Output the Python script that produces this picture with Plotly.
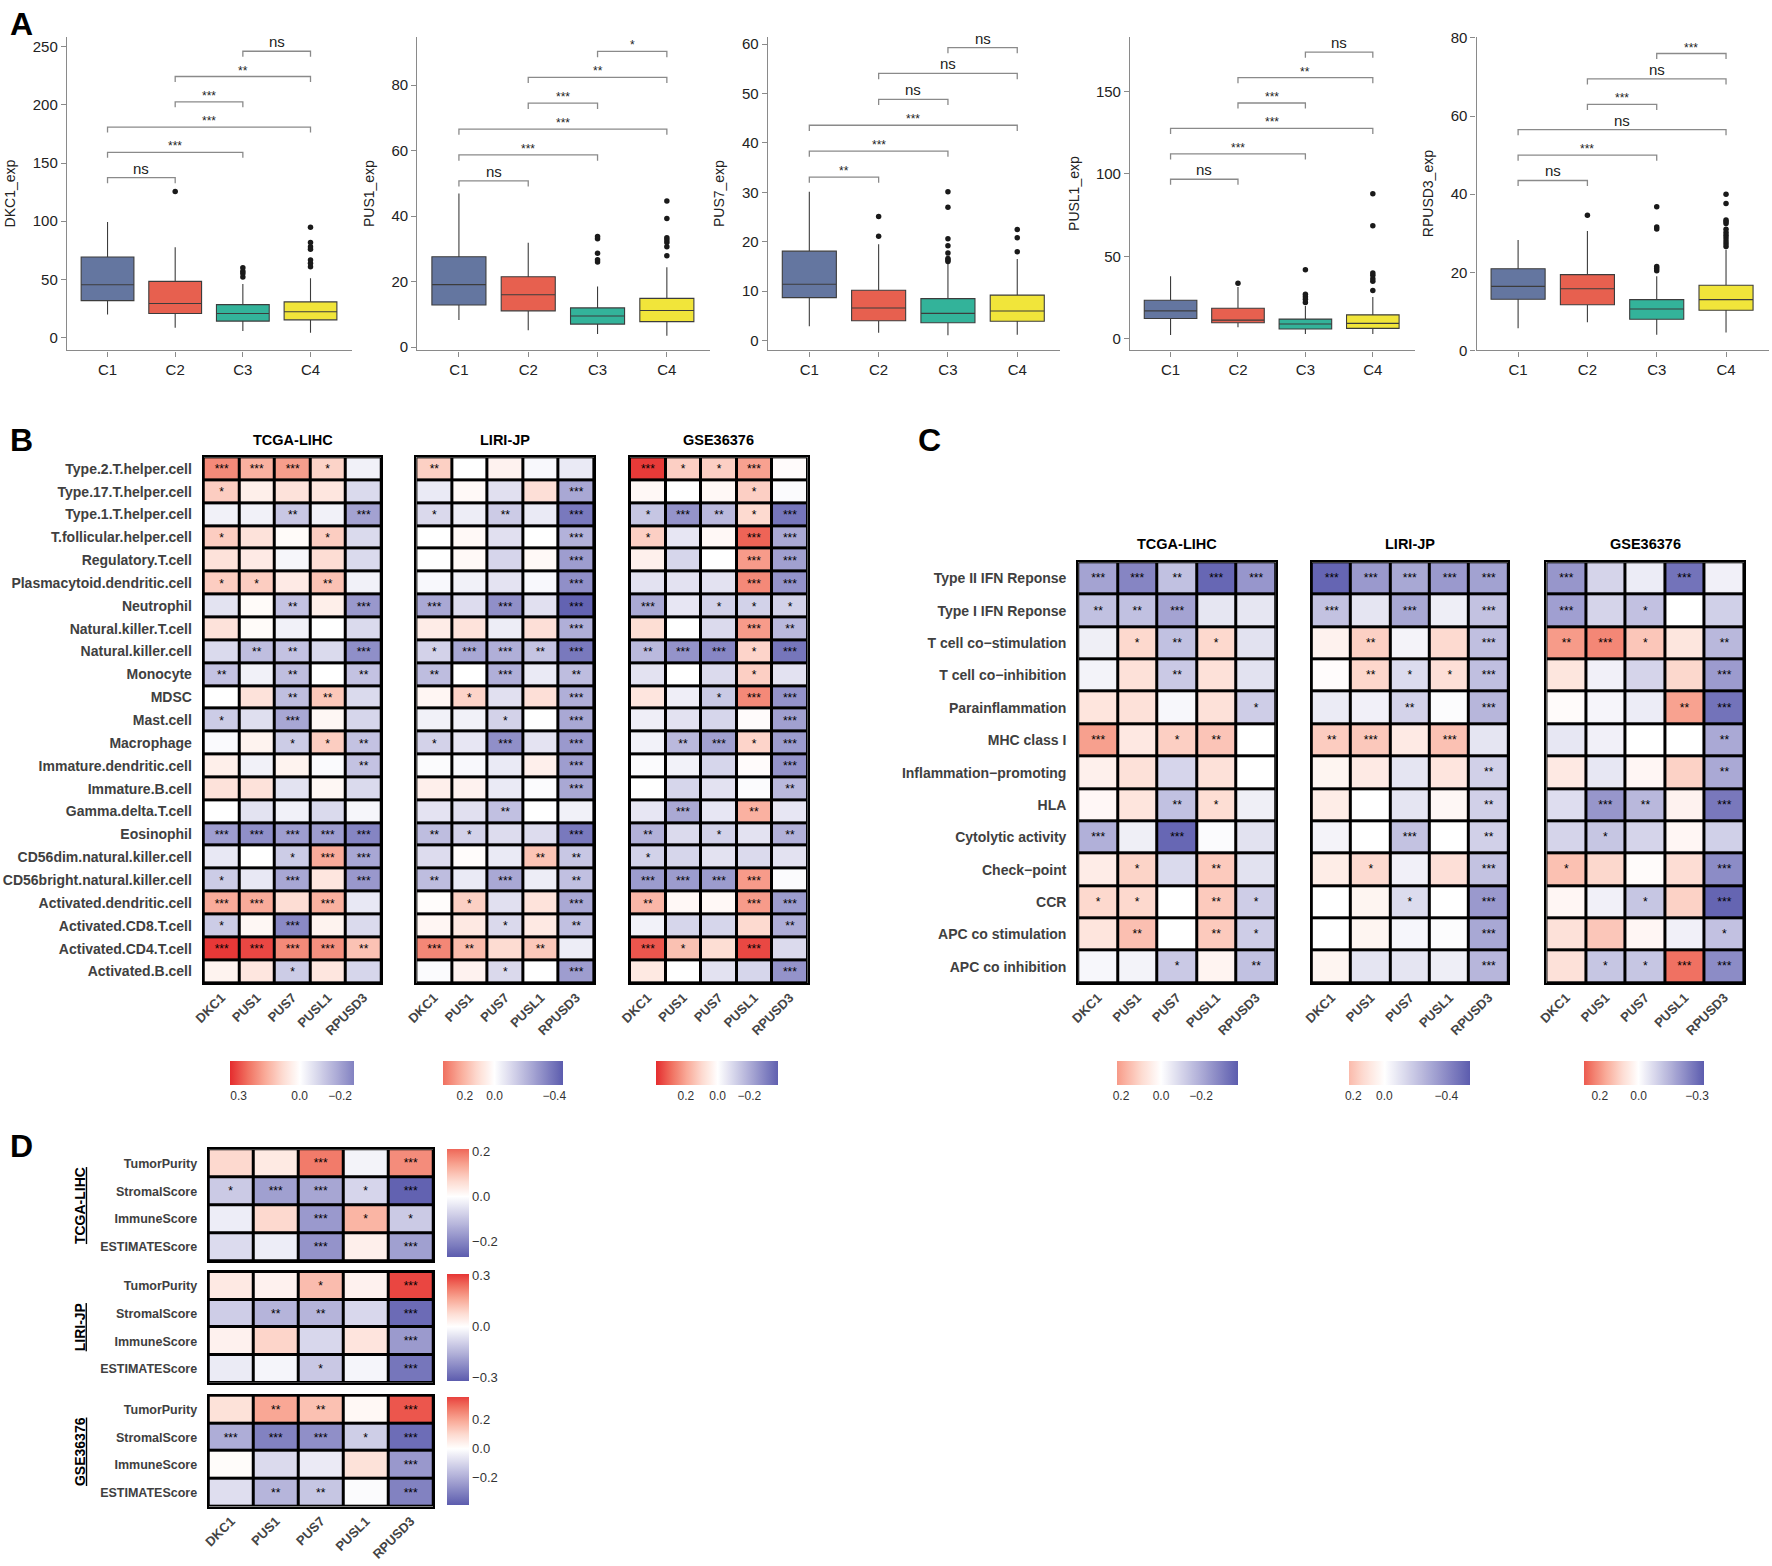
import plotly.graph_objects as go

W, H = 1772, 1566
FONT = "Liberation Sans, Arial, sans-serif"

# ---------------- Panel A data ----------------
groups = ["C1", "C2", "C3", "C4"]
box_colors = ["#6476A0", "#E7604F", "#33B39A", "#F1E53A"]
comparisons = [(0, 1), (0, 2), (0, 3), (1, 2), (1, 3), (2, 3)]

dkc1_q1 = [31.8, 20.7, 14.2, 15.3]
dkc1_med = [45.5, 29.3, 20.7, 22.2]
dkc1_q3 = [69.3, 48.3, 28.4, 30.7]
dkc1_lo = [19.9, 8.5, 5.7, 4.3]
dkc1_hi = [99.4, 77.6, 46.0, 51.0]
dkc1_out = [[], [125.6], [52, 55, 57, 60], [61, 64, 66.8, 76, 78, 81.8, 94.9]]
dkc1_sig = ["ns", "***", "***", "***", "**", "ns"]

pus1_q1 = [12.9, 11.1, 7.05, 7.8]
pus1_med = [19.1, 16.0, 9.5, 11.2]
pus1_q3 = [27.6, 21.5, 12.0, 14.9]
pus1_lo = [8.3, 5.2, 4.0, 3.5]
pus1_hi = [46.9, 31.9, 18.5, 24.4]
pus1_out = [[], [], [26.0, 26.7, 28.7, 33.1, 33.8], [27.9, 30.7, 32.0, 32.7, 33.4, 39.3, 44.6]]
pus1_sig = ["ns", "***", "***", "***", "**", "*"]

pus7_q1 = [8.7, 4.0, 3.6, 3.9]
pus7_med = [11.4, 6.6, 5.5, 6.0]
pus7_q3 = [18.1, 10.2, 8.5, 9.2]
pus7_lo = [2.9, 1.6, 1.1, 1.2]
pus7_hi = [30.1, 19.5, 16.0, 16.5]
pus7_out = [[], [21.1, 25.1], [16.0, 16.3, 16.6, 17.7, 19.2, 20.6, 27.0, 30.1], [18.0, 20.8, 22.5]]
pus7_sig = ["**", "***", "***", "ns", "ns", "ns"]

pusl1_q1 = [12.4, 9.8, 6.0, 6.4]
pusl1_med = [17.0, 11.4, 9.0, 9.4]
pusl1_q3 = [23.4, 18.6, 12.0, 14.6]
pusl1_lo = [2.4, 7.0, 3.0, 3.0]
pusl1_hi = [38.0, 31.4, 20.0, 25.4]
pusl1_out = [[], [33.8], [22.0, 24.0, 25.5, 27.0, 42.0], [29.4, 35.0, 36.5, 38.6, 40.0, 68.6, 88.0]]
pusl1_sig = ["ns", "***", "***", "***", "**", "ns"]

rpusd3_q1 = [13.1, 11.7, 8.0, 10.3]
rpusd3_med = [16.4, 15.8, 10.6, 13.0]
rpusd3_q3 = [20.9, 19.4, 13.0, 16.7]
rpusd3_lo = [5.7, 7.2, 4.0, 4.6]
rpusd3_hi = [28.3, 30.6, 19.0, 25.8]
rpusd3_out = [[], [34.6], [20.4, 21.0, 21.5, 31.1, 31.6, 36.8],
              [26.6, 27.3, 28.0, 28.8, 29.5, 30.2, 31.0, 32.5, 33.0, 33.4, 37.6, 40.0]]
rpusd3_sig = ["ns", "***", "ns", "***", "ns", "***"]

# ---------------- Heatmap data ----------------
genes = ["DKC1", "PUS1", "PUS7", "PUSL1", "RPUSD3"]
datasets = ["TCGA-LIHC", "LIRI-JP", "GSE36376"]

cells_B = ["Type.2.T.helper.cell", "Type.17.T.helper.cell", "Type.1.T.helper.cell",
           "T.follicular.helper.cell", "Regulatory.T.cell", "Plasmacytoid.dendritic.cell",
           "Neutrophil", "Natural.killer.T.cell", "Natural.killer.cell", "Monocyte", "MDSC",
           "Mast.cell", "Macrophage", "Immature.dendritic.cell", "Immature.B.cell",
           "Gamma.delta.T.cell", "Eosinophil", "CD56dim.natural.killer.cell",
           "CD56bright.natural.killer.cell", "Activated.dendritic.cell", "Activated.CD8.T.cell",
           "Activated.CD4.T.cell", "Activated.B.cell"]

tcga_B_r = [
    [0.22, 0.16, 0.19, 0.10, -0.03], [0.11, 0.04, 0.07, 0.06, -0.08],
    [-0.03, -0.03, -0.12, -0.03, -0.20], [0.11, 0.07, 0.01, 0.11, -0.08],
    [0.07, 0.05, -0.02, 0.08, -0.08], [0.11, 0.11, 0.05, 0.13, -0.03],
    [-0.06, 0.01, -0.13, 0.04, -0.22], [0.07, 0.01, -0.03, 0.0, -0.08],
    [-0.08, -0.14, -0.13, -0.08, -0.24], [-0.13, -0.03, -0.14, 0.0, -0.13],
    [0.0, 0.07, -0.14, 0.12, -0.08], [-0.11, -0.07, -0.19, 0.02, -0.09],
    [-0.01, 0.03, -0.11, 0.11, -0.13], [0.04, -0.03, 0.03, -0.01, -0.13],
    [0.07, 0.07, -0.06, 0.02, -0.08], [0.0, -0.06, -0.03, -0.08, -0.02],
    [-0.21, -0.24, -0.21, -0.21, -0.26], [-0.05, 0.0, -0.11, 0.17, -0.19],
    [-0.11, -0.05, -0.19, 0.06, -0.22], [0.17, 0.17, 0.08, 0.16, -0.05],
    [-0.11, 0.02, -0.25, 0.03, -0.08], [0.33, 0.31, 0.22, 0.21, 0.13],
    [0.03, 0.06, -0.11, 0.06, -0.09]]
tcga_B_p = [
    ["***", "***", "***", "*", ""], ["*", "", "", "", ""], ["", "", "**", "", "***"],
    ["*", "", "", "*", ""], ["", "", "", "", ""], ["*", "*", "", "**", ""],
    ["", "", "**", "", "***"], ["", "", "", "", ""], ["", "**", "**", "", "***"],
    ["**", "", "**", "", "**"], ["", "", "**", "**", ""], ["*", "", "***", "", ""],
    ["", "", "*", "*", "**"], ["", "", "", "", "**"], ["", "", "", "", ""],
    ["", "", "", "", ""], ["***", "***", "***", "***", "***"], ["", "", "*", "***", "***"],
    ["*", "", "***", "", "***"], ["***", "***", "", "***", ""], ["*", "", "***", "", ""],
    ["***", "***", "***", "***", "**"], ["", "", "*", "", ""]]

liri_B_r = [
    [0.14, 0.0, 0.04, -0.02, -0.06], [-0.06, 0.02, -0.09, 0.10, -0.25],
    [-0.11, -0.05, -0.15, -0.06, -0.38], [0.0, 0.02, -0.09, 0.0, -0.22],
    [0.0, 0.02, -0.12, 0.02, -0.28], [-0.02, -0.04, -0.08, -0.02, -0.32],
    [-0.25, -0.10, -0.32, -0.09, -0.44], [0.06, 0.09, -0.05, 0.10, -0.23],
    [-0.13, -0.25, -0.23, -0.17, -0.38], [-0.19, 0.0, -0.23, -0.06, -0.19],
    [0.03, 0.13, -0.09, 0.10, -0.23], [-0.04, -0.04, -0.13, 0.0, -0.25],
    [-0.13, -0.07, -0.32, -0.08, -0.29], [-0.01, -0.02, -0.06, 0.05, -0.28],
    [0.05, 0.04, -0.06, -0.01, -0.25], [-0.08, -0.09, -0.18, 0.0, -0.04],
    [-0.19, -0.13, -0.10, -0.10, -0.38], [-0.10, 0.01, -0.06, 0.17, -0.16],
    [-0.19, -0.06, -0.25, -0.05, -0.18], [0.01, 0.14, -0.09, 0.09, -0.25],
    [0.03, 0.07, -0.11, 0.07, -0.18], [0.30, 0.19, 0.11, 0.16, -0.05],
    [-0.01, 0.04, -0.11, 0.0, -0.28]]
liri_B_p = [
    ["**", "", "", "", ""], ["", "", "", "", "***"], ["*", "", "**", "", "***"],
    ["", "", "", "", "***"], ["", "", "", "", "***"], ["", "", "", "", "***"],
    ["***", "", "***", "", "***"], ["", "", "", "", "***"], ["*", "***", "***", "**", "***"],
    ["**", "", "***", "", "**"], ["", "*", "", "", "***"], ["", "", "*", "", "***"],
    ["*", "", "***", "", "***"], ["", "", "", "", "***"], ["", "", "", "", "***"],
    ["", "", "**", "", ""], ["**", "*", "", "", "***"], ["", "", "", "**", "**"],
    ["**", "", "***", "", "**"], ["", "*", "", "", "***"], ["", "", "*", "", "**"],
    ["***", "**", "", "**", ""], ["", "", "*", "", "***"]]

gse_B_r = [
    [0.37, 0.12, 0.12, 0.21, 0.01], [0.02, 0.0, 0.02, 0.12, -0.01],
    [-0.14, -0.26, -0.17, 0.10, -0.33], [0.12, -0.06, 0.02, 0.31, -0.21],
    [0.04, -0.10, 0.0, 0.22, -0.23], [-0.07, -0.07, -0.07, 0.25, -0.26],
    [-0.21, -0.06, -0.11, -0.11, -0.11], [0.09, 0.0, -0.09, 0.22, -0.17],
    [-0.17, -0.26, -0.29, 0.11, -0.33], [-0.07, 0.0, -0.09, 0.12, -0.07],
    [0.07, -0.04, -0.13, 0.25, -0.26], [-0.04, -0.07, -0.10, 0.01, -0.23],
    [-0.03, -0.17, -0.23, 0.11, -0.24], [-0.01, -0.03, -0.10, 0.01, -0.26],
    [0.0, -0.10, -0.07, -0.01, -0.17], [-0.06, -0.21, -0.06, 0.18, -0.06],
    [-0.19, -0.09, -0.11, -0.07, -0.19], [-0.11, -0.10, -0.07, -0.09, -0.07],
    [-0.24, -0.24, -0.24, 0.22, -0.01], [0.17, 0.02, 0.02, 0.22, -0.24],
    [-0.03, -0.10, -0.10, 0.10, -0.20], [0.33, 0.15, 0.09, 0.35, -0.09],
    [0.06, 0.0, -0.07, -0.10, -0.26]]
gse_B_p = [
    ["***", "*", "*", "***", ""], ["", "", "", "*", ""], ["*", "***", "**", "*", "***"],
    ["*", "", "", "***", "***"], ["", "", "", "***", "***"], ["", "", "", "***", "***"],
    ["***", "", "*", "*", "*"], ["", "", "", "***", "**"], ["**", "***", "***", "*", "***"],
    ["", "", "", "*", ""], ["", "", "*", "***", "***"], ["", "", "", "", "***"],
    ["", "**", "***", "*", "***"], ["", "", "", "", "***"], ["", "", "", "", "**"],
    ["", "***", "", "**", ""], ["**", "", "*", "", "**"], ["*", "", "", "", ""],
    ["***", "***", "***", "***", ""], ["**", "", "", "***", "***"], ["", "", "", "", "**"],
    ["***", "*", "", "***", ""], ["", "", "", "", "***"]]

path_C = ["Type II IFN Reponse", "Type I IFN Reponse", "T cell co\u2212stimulation",
          "T cell co\u2212inhibition", "Parainflammation", "MHC class I",
          "Inflammation\u2212promoting", "HLA", "Cytolytic activity", "Check\u2212point",
          "CCR", "APC co stimulation", "APC co inhibition"]

tcga_C_r = [
    [-0.22, -0.29, -0.15, -0.36, -0.25], [-0.15, -0.15, -0.22, -0.06, -0.06],
    [-0.04, 0.10, -0.15, 0.10, -0.07], [-0.03, 0.08, -0.13, 0.08, -0.07],
    [0.07, 0.08, -0.02, 0.08, -0.12], [0.21, 0.06, 0.12, 0.14, 0.0],
    [0.04, 0.08, -0.10, 0.08, 0.0], [0.02, 0.07, -0.15, 0.09, -0.04],
    [-0.19, -0.04, -0.36, -0.01, -0.07], [0.05, 0.11, -0.09, 0.13, -0.07],
    [0.10, 0.10, 0.0, 0.13, -0.12], [0.07, 0.15, 0.0, 0.13, -0.12],
    [-0.02, -0.03, -0.13, 0.03, -0.15]]
tcga_C_p = [
    ["***", "***", "**", "***", "***"], ["**", "**", "***", "", ""], ["", "*", "**", "*", ""],
    ["", "", "**", "", ""], ["", "", "", "", "*"], ["***", "", "*", "**", ""],
    ["", "", "", "", ""], ["", "", "**", "*", ""], ["***", "", "***", "", ""],
    ["", "*", "", "**", ""], ["*", "*", "", "**", "*"], ["", "**", "", "**", "*"],
    ["", "", "*", "", "**"]]

liri_C_r = [
    [-0.52, -0.35, -0.30, -0.35, -0.32], [-0.21, -0.09, -0.30, -0.06, -0.21],
    [0.05, 0.17, -0.04, 0.14, -0.22], [0.01, 0.15, -0.12, 0.12, -0.22],
    [-0.07, -0.05, -0.15, -0.01, -0.25], [0.18, 0.19, 0.08, 0.21, -0.09],
    [0.04, 0.08, -0.09, 0.10, -0.16], [0.07, 0.0, -0.09, 0.03, -0.16],
    [-0.04, 0.0, -0.21, 0.0, -0.16], [0.07, 0.14, -0.05, 0.12, -0.21],
    [0.0, 0.04, -0.12, 0.0, -0.35], [0.0, 0.04, -0.03, -0.01, -0.30],
    [0.04, -0.09, -0.09, -0.06, -0.25]]
liri_C_p = [
    ["***", "***", "***", "***", "***"], ["***", "", "***", "", "***"], ["", "**", "", "", "***"],
    ["", "**", "*", "*", "***"], ["", "", "**", "", "***"], ["**", "***", "", "***", ""],
    ["", "", "", "", "**"], ["", "", "", "", "**"], ["", "", "***", "", "**"],
    ["", "*", "", "", "***"], ["", "", "*", "", "***"], ["", "", "", "", "***"],
    ["", "", "", "", "***"]]

gse_C_r = [
    [-0.22, -0.09, -0.04, -0.29, -0.03], [-0.20, -0.09, -0.13, 0.0, -0.10],
    [0.19, 0.22, 0.12, 0.06, -0.15], [0.06, -0.03, -0.09, 0.09, -0.21],
    [0.01, -0.02, -0.04, 0.18, -0.29], [-0.05, -0.03, 0.0, 0.0, -0.18],
    [0.05, -0.05, 0.02, 0.10, -0.18], [-0.07, -0.22, -0.15, 0.03, -0.28],
    [-0.09, -0.12, -0.09, 0.02, -0.10], [0.13, 0.09, 0.01, 0.08, -0.24],
    [0.02, -0.03, -0.12, 0.10, -0.32], [0.07, 0.12, 0.02, -0.03, -0.13],
    [0.07, -0.12, -0.12, 0.25, -0.24]]
gse_C_p = [
    ["***", "", "", "***", ""], ["***", "", "*", "", ""], ["**", "***", "*", "", "**"],
    ["", "", "", "", "***"], ["", "", "", "**", "***"], ["", "", "", "", "**"],
    ["", "", "", "", "**"], ["", "***", "**", "", "***"], ["", "*", "", "", ""],
    ["*", "", "", "", "***"], ["", "", "*", "", "***"], ["", "", "", "", "*"],
    ["", "*", "*", "***", "***"]]

scores_D = ["TumorPurity", "StromalScore", "ImmuneScore", "ESTIMATEScore"]
tcga_D_r = [[0.07, 0.04, 0.19, -0.02, 0.17], [-0.09, -0.16, -0.15, -0.07, -0.26],
            [-0.03, 0.07, -0.17, 0.12, -0.09], [-0.06, -0.03, -0.18, 0.03, -0.16]]
tcga_D_p = [["", "", "***", "", "***"], ["*", "***", "***", "*", "***"],
            ["", "", "***", "*", "*"], ["", "", "***", "", "***"]]
liri_D_r = [[0.05, 0.03, 0.13, 0.03, 0.29], [-0.10, -0.15, -0.15, -0.08, -0.29],
            [0.03, 0.09, -0.08, 0.06, -0.20], [-0.04, -0.02, -0.11, -0.02, -0.27]]
liri_D_p = [["", "", "*", "", "***"], ["", "**", "**", "", "***"],
            ["", "", "", "", "***"], ["", "", "*", "", "***"]]
gse_D_r = [[0.08, 0.20, 0.15, 0.02, 0.33], [-0.20, -0.30, -0.27, -0.12, -0.35],
           [0.01, -0.09, -0.05, 0.08, -0.25], [-0.08, -0.18, -0.14, -0.01, -0.30]]
gse_D_p = [["", "**", "**", "", "***"], ["***", "***", "***", "*", "***"],
           ["", "", "", "", "***"], ["", "**", "**", "", "***"]]

# colour-bar limits (red end, blue end) and tick values read from the legends
cb_B_lim = [(0.345, -0.266), (0.346, -0.46), (0.39, -0.38)]
cb_B_ticks = [[0.3, 0.0, -0.2], [0.2, 0.0, -0.4], [0.2, 0.0, -0.2]]
cb_C_lim = [(0.22, -0.385), (0.23, -0.55), (0.28, -0.337)]
cb_C_ticks = [[0.2, 0.0, -0.2], [0.2, 0.0, -0.4], [0.2, 0.0, -0.3]]
cb_D_lim = [(0.212, -0.27), (0.31, -0.32), (0.36, -0.39)]
cb_D_ticks = [[0.2, 0.0, -0.2], [0.3, 0.0, -0.3], [0.2, 0.0, -0.2]]

# ---------------- helpers ----------------
def fx(x):
    # small horizontal correction for the rendered page
    return x - 8.0 * (W - x) / W

def xdom(a, b):
    return [fx(a) / W, fx(b) / W]

def ydom(top, bot):
    return [1 - bot / H, 1 - top / H]

def nm(n):
    return "" if n == 1 else str(n)

RED = [(0, (255, 255, 255)), (0.25, (253, 219, 209)), (0.5, (249, 170, 152)),
       (0.75, (240, 112, 96)), (1, (229, 44, 46))]
BLUE = [(0, (255, 255, 255)), (0.5, (176, 175, 216)), (1, (92, 92, 174))]

def ramp(stops, f):
    f = max(0.0, min(1.0, f))
    for (a, ca), (b, cb) in zip(stops[:-1], stops[1:]):
        if f <= b:
            t = (f - a) / (b - a)
            return tuple(ca[i] + t * (cb[i] - ca[i]) for i in range(3))
    return stops[-1][1]

def col(r, M):
    c = ramp(RED, r / M) if r >= 0 else ramp(BLUE, -r / M)
    return "rgb(%d,%d,%d)" % tuple(int(round(x)) for x in c)

def make_scale(lo, hi, negate):
    M = max(abs(lo), abs(hi))
    ps = [k / 40 for k in range(41)]
    p0 = (0 - lo) / (hi - lo)
    if 0 < p0 < 1:
        ps.append(p0)
    ps = sorted(set(ps))
    out = []
    for p in ps:
        v = lo + p * (hi - lo)
        r = -v if negate else v
        out.append([p, col(r, M)])
    return out

fig = go.Figure()
layout = dict(width=W, height=H, margin=dict(l=0, r=0, t=0, b=0),
              paper_bgcolor="white", plot_bgcolor="white",
              font=dict(family=FONT, color="#222"), showlegend=False)
annotations = []
shapes = []

# ---------------- Panel A ----------------
A_panels = [
    ("DKC1_exp", dkc1_q1, dkc1_med, dkc1_q3, dkc1_lo, dkc1_hi, dkc1_out, dkc1_sig),
    ("PUS1_exp", pus1_q1, pus1_med, pus1_q3, pus1_lo, pus1_hi, pus1_out, pus1_sig),
    ("PUS7_exp", pus7_q1, pus7_med, pus7_q3, pus7_lo, pus7_hi, pus7_out, pus7_sig),
    ("PUSL1_exp", pusl1_q1, pusl1_med, pusl1_q3, pusl1_lo, pusl1_hi, pusl1_out, pusl1_sig),
    ("RPUSD3_exp", rpusd3_q1, rpusd3_med, rpusd3_q3, rpusd3_lo, rpusd3_hi, rpusd3_out, rpusd3_sig),
]
A_xpix = [(64, 350), (415, 708), (766, 1059), (1129, 1414), (1476, 1769)]
A_yrange = [(-11, 258.5), (-1, 94.8), (-2, 61.5), (-7, 183.2), (0, 80.3)]
A_dtick = [50, 20, 10, 50, 20]
A_brk = [(137.5, 21.7), (50.8, 7.9), (33.1, 5.24), (96.8, 15.4), (43.5, 6.5)]
gx = list(range(len(groups)))

axn = 0
for i, (title, q1, med, q3, lo, hi, outs, sig) in enumerate(A_panels):
    axn += 1
    xr, yr = "x" + nm(axn), "y" + nm(axn)
    for g in gx:
        fig.add_trace(go.Box(x=[g], q1=[q1[g]], median=[med[g]], q3=[q3[g]],
                             lowerfence=[lo[g]], upperfence=[hi[g]],
                             fillcolor=box_colors[g], line=dict(color="#3c3c3c", width=1.1),
                             width=0.78, whiskerwidth=0, boxpoints=False,
                             xaxis=xr, yaxis=yr, hoverinfo="skip"))
        if outs[g]:
            fig.add_trace(go.Scatter(x=[g] * len(outs[g]), y=outs[g], mode="markers",
                                     marker=dict(color="#1a1a1a", size=5.5),
                                     xaxis=xr, yaxis=yr, hoverinfo="skip"))
    base, step = A_brk[i]
    drop = step * 0.22
    bx, by = [], []
    for k, (a, b) in enumerate(comparisons):
        yv = base + k * step
        bx += [a, a, b, b, None]
        by += [yv - drop, yv, yv, yv - drop, None]
        annotations.append(dict(text=sig[k], x=(a + b) / 2, y=yv, xref=xr, yref=yr,
                                showarrow=False, xanchor="center", yanchor="bottom",
                                yshift=-1 if sig[k] == "ns" else -3,
                                font=dict(size=15 if sig[k] == "ns" else 12, color="#222")))
    fig.add_trace(go.Scatter(x=bx, y=by, mode="lines", line=dict(color="#8a8a8a", width=1.3),
                             xaxis=xr, yaxis=yr, hoverinfo="skip"))
    layout["xaxis" + nm(axn)] = dict(domain=xdom(*A_xpix[i]), anchor=yr, range=[-0.6, 3.62],
                                     tickvals=gx, ticktext=groups,
                                     showline=True, linecolor="#8a8a8a", linewidth=1.3,
                                     ticks="outside", ticklen=5, tickcolor="#8a8a8a",
                                     tickfont=dict(size=15, color="#222"), showgrid=False,
                                     zeroline=False)
    layout["yaxis" + nm(axn)] = dict(domain=ydom(29, 346), anchor=xr, range=list(A_yrange[i]),
                                     dtick=A_dtick[i], tick0=0, showline=True,
                                     linecolor="#8a8a8a", linewidth=1.3, ticks="outside",
                                     ticklen=5, tickcolor="#8a8a8a",
                                     tickfont=dict(size=15, color="#222"), showgrid=False,
                                     zeroline=False,
                                     title=dict(text=title, font=dict(size=14, color="#222"),
                                                standoff=13))

# ---------------- Heatmaps ----------------
ca_n = 0

def add_heatmap(r, p, rows, xpix, ypix, lim, ticks, orient, cbpix, show_x=True, show_y=True,
                ysize=14):
    global axn, ca_n
    axn += 1
    ca_n += 1
    xr, yr = "x" + nm(axn), "y" + nm(axn)
    cname = "coloraxis" + nm(ca_n)
    negate = orient == "h"
    z = [[-v for v in row] for row in r] if negate else r
    fig.add_trace(go.Heatmap(z=z, x=list(range(len(genes))), y=list(range(len(rows))),
                             coloraxis=cname, text=p,
                             texttemplate="%{text}",
                             textfont=dict(size=12, color="black", family=FONT),
                             xgap=3, ygap=3, xaxis=xr, yaxis=yr, hoverinfo="skip"))
    red_end, blue_end = lim
    if negate:
        cmin, cmax = -red_end, -blue_end
        tv = [-t for t in ticks]
    else:
        cmin, cmax = blue_end, red_end
        tv = list(ticks)
    tt = [("%.1f" % t).replace("-", "\u2212") if t != 0 else "0.0" for t in ticks]
    x0, x1, y0, y1 = cbpix
    x0, x1 = fx(x0), fx(x1)
    if orient == "h":
        cb = dict(orientation="h", x=(x0 + x1) / 2 / W, xanchor="center", y=1 - y0 / H,
                  yanchor="top", len=(x1 - x0) / W, lenmode="fraction",
                  thickness=y1 - y0, outlinewidth=0, xpad=0, ypad=0,
                  tickvals=tv, ticktext=tt, ticks="", tickfont=dict(size=12, color="#333"))
    else:
        cb = dict(orientation="v", x=x0 / W, xanchor="left", y=1 - (y0 + y1) / 2 / H,
                  yanchor="middle", len=(y1 - y0) / H, lenmode="fraction",
                  thickness=x1 - x0, outlinewidth=0, xpad=0, ypad=0,
                  tickvals=tv, ticktext=tt, ticks="", tickfont=dict(size=13, color="#333"))
    layout[cname] = dict(cmin=cmin, cmax=cmax, colorscale=make_scale(cmin, cmax, negate),
                         colorbar=cb)
    layout["xaxis" + nm(axn)] = dict(domain=xdom(*xpix), anchor=yr, range=[-0.5, len(genes) - 0.5],
                                     tickvals=list(range(len(genes))), ticktext=genes,
                                     showticklabels=show_x, tickangle=-45, ticks="",
                                     tickfont=dict(size=13, color="#444", weight="bold"),
                                     showline=True, mirror=True, linecolor="black", linewidth=2,
                                     showgrid=False, zeroline=False)
    layout["yaxis" + nm(axn)] = dict(domain=ydom(*ypix), anchor=xr,
                                     range=[len(rows) - 0.5, -0.5],
                                     tickvals=list(range(len(rows))), ticktext=rows,
                                     showticklabels=show_y, ticks="", ticklabelstandoff=7,
                                     tickfont=dict(size=ysize, color="#404040", weight="bold"),
                                     showline=True, mirror=True, linecolor="black", linewidth=2,
                                     showgrid=False, zeroline=False)
    shapes.append(dict(type="rect", xref=xr + " domain", yref=yr + " domain", x0=0, x1=1,
                       y0=0, y1=1, fillcolor="black", line=dict(width=0), layer="below"))

# Panel B
B_mats = [(tcga_B_r, tcga_B_p), (liri_B_r, liri_B_p), (gse_B_r, gse_B_p)]
B_xpix = [(201, 379), (414, 592), (628, 806)]
B_cbx = [(227, 351), (441, 561), (654, 776)]
for k, (r, p) in enumerate(B_mats):
    add_heatmap(r, p, cells_B, B_xpix[k], (454, 985), cb_B_lim[k], cb_B_ticks[k], "h",
                (B_cbx[k][0], B_cbx[k][1], 1064, 1088), show_y=(k == 0), ysize=14)
    annotations.append(dict(text="<b>" + datasets[k] + "</b>",
                            x=(fx(B_xpix[k][0]) + fx(B_xpix[k][1])) / 2 / W,
                            y=1 - 436 / H, xref="paper", yref="paper", showarrow=False,
                            font=dict(size=14.5, color="black"), xanchor="center", yanchor="middle"))

# Panel C
C_mats = [(tcga_C_r, tcga_C_p), (liri_C_r, liri_C_p), (gse_C_r, gse_C_p)]
C_xpix = [(1077, 1275), (1311, 1508), (1546, 1744)]
C_cbx = [(1116, 1237), (1348, 1469), (1584, 1704)]
for k, (r, p) in enumerate(C_mats):
    add_heatmap(r, p, path_C, C_xpix[k], (560, 985), cb_C_lim[k], cb_C_ticks[k], "h",
                (C_cbx[k][0], C_cbx[k][1], 1064, 1088), show_y=(k == 0), ysize=14)
    annotations.append(dict(text="<b>" + datasets[k] + "</b>",
                            x=(fx(C_xpix[k][0]) + fx(C_xpix[k][1])) / 2 / W,
                            y=1 - 542 / H, xref="paper", yref="paper", showarrow=False,
                            font=dict(size=14.5, color="black"), xanchor="center", yanchor="middle"))

# Panel D
D_mats = [(tcga_D_r, tcga_D_p), (liri_D_r, liri_D_p), (gse_D_r, gse_D_p)]
D_ypix = [(1153, 1266), (1277, 1389), (1402, 1514)]
D_cby = [(1153, 1262), (1279, 1387), (1403, 1512)]
for k, (r, p) in enumerate(D_mats):
    add_heatmap(r, p, scores_D, (206, 431), D_ypix[k], cb_D_lim[k], cb_D_ticks[k], "v",
                (445, 467, D_cby[k][0], D_cby[k][1]), show_x=(k == 2), ysize=12.5)
    annotations.append(dict(text="<u><b>" + datasets[k] + "</b></u>", x=fx(77) / W,
                            y=1 - (D_ypix[k][0] + D_ypix[k][1]) / 2 / H, xref="paper",
                            yref="paper", showarrow=False, textangle=-90,
                            font=dict(size=14, color="black"), xanchor="center",
                            yanchor="middle"))

# Panel letters
for letter, px, py in [("A", 0, -4), ("B", 0, 416), ("C", 914, 416), ("D", 0, 1130)]:
    annotations.append(dict(text="<b>" + letter + "</b>", x=px / W, y=1 - py / H, xref="paper",
                            yref="paper", xanchor="left", yanchor="top", showarrow=False,
                            xshift=-3,
                            font=dict(size=32, color="black", family="Liberation Sans, Arial")))

layout["annotations"] = annotations
layout["shapes"] = shapes
fig.update_layout(**layout)
fig.write_html("out.html", config={"displayModeBar": False},
               post_script="document.body.style.margin='0';document.body.style.overflow='hidden';")
